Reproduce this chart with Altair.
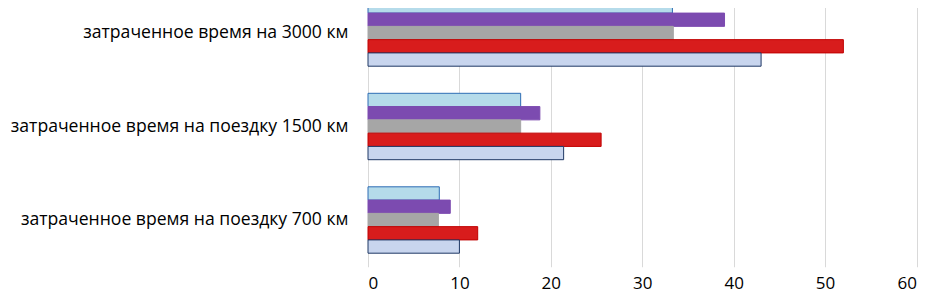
import altair as alt
import pandas as pd

categories = [
    "затраченное время на 3000 км",
    "затраченное время на поездку 1500 км",
    "затраченное время на поездку 700 км",
]
# series listed top-to-bottom inside each group
series = ["Ряд5", "Ряд4", "Ряд3", "Ряд2", "Ряд1"]
ryad5 = [33.3, 16.7, 7.8]
ryad4 = [39.0, 18.8, 9.0]
ryad3 = [33.4, 16.7, 7.7]
ryad2 = [52.0, 25.5, 12.0]
ryad1 = [43.0, 21.4, 10.0]
tick_values = [0, 10, 20, 30, 40, 50, 60]

fills = ["#b5dbea", "#7c4bb0", "#a6a6a6", "#d81c1c", "#c8d5ee"]
strokes = ["#2e6db4", "#7c4bb0", "#a6a6a6", "#c00000", "#1f3864"]

rows = []
for name, vals in zip(series, [ryad5, ryad4, ryad3, ryad2, ryad1]):
    for cat, v in zip(categories, vals):
        rows.append({"category": cat, "series": name, "value": v})
df = pd.DataFrame(rows)

font = "Open Sans"

chart = (
    alt.Chart(df)
    .mark_bar(strokeWidth=1)
    .encode(
        x=alt.X(
            "value:Q",
            scale=alt.Scale(domain=[0, 60], nice=False),
            axis=alt.Axis(
                values=tick_values,
                title=None,
                domain=False,
                ticks=False,
                grid=True,
                gridColor="#d9d9d9",
                gridWidth=1,
                labelFontSize=17,
                labelFont=font,
                labelColor="#000000",
                labelPadding=9,
            ),
        ),
        y=alt.Y(
            "category:N",
            sort=categories,
            scale=alt.Scale(paddingInner=0.29, paddingOuter=0.145),
            axis=alt.Axis(
                title=None,
                domain=False,
                ticks=False,
                labelFontSize=17.6,
                labelFont=font,
                labelColor="#000000",
                labelPadding=20,
                labelLimit=0,
            ),
        ),
        yOffset=alt.YOffset(
            "series:N",
            sort=series,
            scale=alt.Scale(paddingInner=0, paddingOuter=0),
        ),
        color=alt.Color(
            "series:N", scale=alt.Scale(domain=series, range=fills), legend=None
        ),
        stroke=alt.Stroke(
            "series:N", scale=alt.Scale(domain=series, range=strokes), legend=None
        ),
    )
    .properties(
        width=548.5,
        height=280.5,
        padding={"left": 360, "top": -21.75, "right": 1.5, "bottom": 26.25},
        autosize=alt.AutoSizeParams(type="none"),
        background="#ffffff",
    )
    .configure_view(stroke=None)
)

chart.save("out.html", embed_options={"renderer": "svg", "actions": False})
